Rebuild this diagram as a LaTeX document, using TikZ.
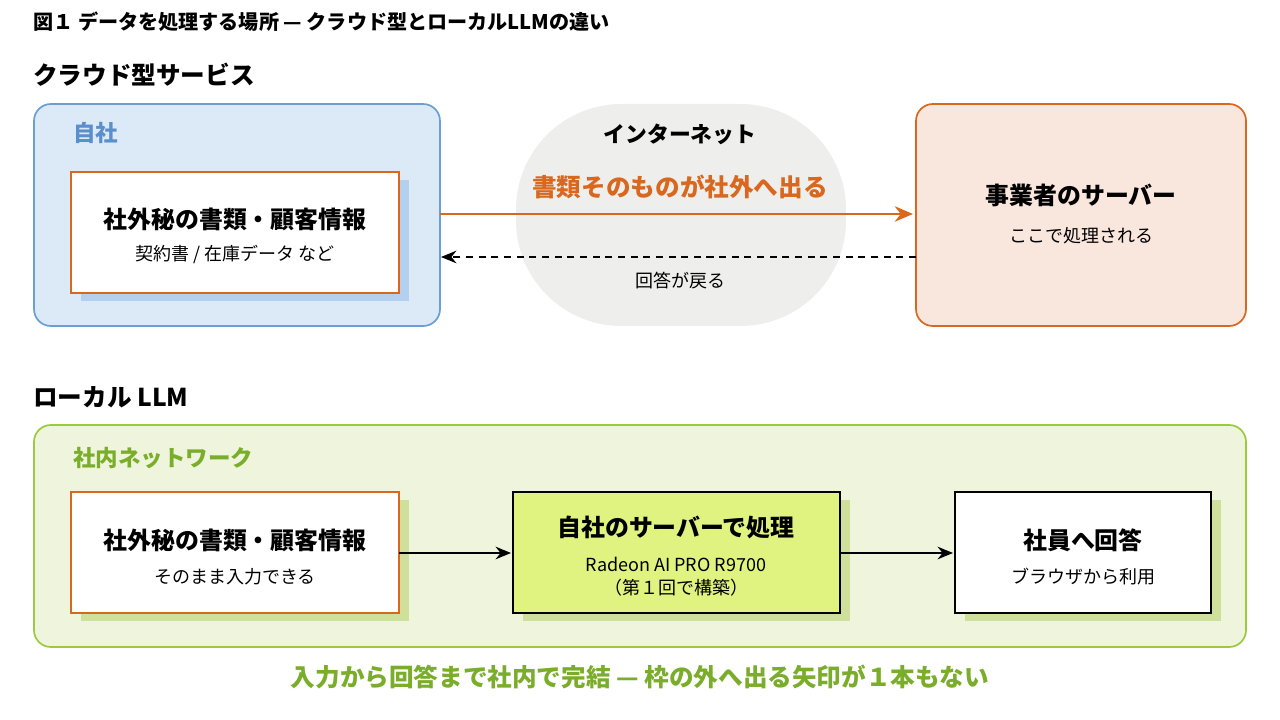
\documentclass[tikz,border=0pt]{standalone}
\usepackage{fontspec}
\setmainfont{Noto Sans CJK JP}
\usepackage{xcolor}
\usetikzlibrary{arrows.meta,positioning}
\definecolor{cloudfill}{HTML}{DCE9F7}
\definecolor{cloudline}{HTML}{6A9FD4}
\definecolor{ownlabel}{HTML}{5B8FCC}
\definecolor{orangeline}{HTML}{D9681E}
\definecolor{vendorfill}{HTML}{F9E6DD}
\definecolor{netfill}{HTML}{EEEFED}
\definecolor{lanfill}{HTML}{EEF5DC}
\definecolor{lanline}{HTML}{9DC93F}
\definecolor{lanlabel}{HTML}{7AAD2A}
\definecolor{serverfill}{HTML}{E0F27F}
\definecolor{blueshadow}{HTML}{B3D1EE}
\definecolor{greenshadow}{HTML}{CFE09D}
\tikzset{
  zone/.style={rounded corners=12pt, line width=1.2pt},
  card/.style={line width=1.2pt},
  head/.style={font=\bfseries\fontsize{17}{20}\selectfont},
  sub/.style={font=\fontsize{12.8}{15}\selectfont},
  arr/.style={-{Stealth[length=11pt,width=9pt]}, line width=0.9pt}
}
\begin{document}
\begin{tikzpicture}[x=0.025cm,y=-0.025cm]
  \useasboundingbox (0,0) rectangle (1280,720);
  % titles
  \node[anchor=west, inner sep=0pt, font=\bfseries\fontsize{14.3}{16}\selectfont] (title) at (33,22) {図１ データを処理する場所 — クラウド型とローカルLLMの違い};
  \node[anchor=west, inner sep=0pt, font=\bfseries\fontsize{17.5}{20}\selectfont] (cloudhead) at (33,75) {クラウド型サービス};
  \node[anchor=west, inner sep=0pt, font=\bfseries\fontsize{17.5}{20}\selectfont] (localhead) at (33,397) {ローカル LLM};

  % cloud: own company
  \draw[zone, fill=cloudfill, draw=cloudline] (34,104) rectangle (440,326);
  \node[anchor=west, inner sep=0pt, text=ownlabel, font=\bfseries\fontsize{16}{18}\selectfont] (own) at (73,133) {自社};
  \fill[blueshadow] (81,180) rectangle (409,301);
  \draw[card, fill=white, draw=orangeline] (71,172) rectangle (399,293);
  \node[head] (docA) at (235,219) {社外秘の書類・顧客情報};
  \node[sub] (docAsub) at (235,254) {契約書 / 在庫データ など};

  % internet
  \fill[netfill, rounded corners=75pt] (516,104) rectangle (846,326);
  \node[font=\bfseries\fontsize{15.5}{18}\selectfont] (net) at (680,134) {インターネット};
  \node[text=orangeline, font=\bfseries\fontsize{17.5}{20}\selectfont] (leak) at (680,187) {書類そのものが社外へ出る};
  \node[sub] (reply) at (680,281) {回答が戻る};

  % vendor
  \draw[zone, fill=vendorfill, draw=orangeline] (916,104) rectangle (1246,326);
  \node[head] (vendor) at (1081,195) {事業者のサーバー};
  \node[sub] (vendorsub) at (1081,236) {ここで処理される};

  \coordinate (outA) at (440,214);
  \coordinate (outB) at (913,214);
  \coordinate (backA) at (916,257);
  \coordinate (backB) at (441,257);
  \draw[arr, draw=orangeline, line width=1.5pt, -{Stealth[length=13pt,width=11pt]}] (outA) -- (outB);
  \draw[arr, dashed, dash pattern=on 5pt off 4pt] (backA) -- (backB);

  % local
  \draw[zone, fill=lanfill, draw=lanline] (34,425) rectangle (1246,647);
  \node[anchor=west, inner sep=0pt, text=lanlabel, font=\bfseries\fontsize{16}{18}\selectfont] (lan) at (73,458) {社内ネットワーク};
  \fill[greenshadow] (81,500) rectangle (409,621);
  \fill[greenshadow] (523,500) rectangle (850,621);
  \fill[greenshadow] (965,500) rectangle (1221,621);
  \draw[card, fill=white, draw=orangeline] (71,492) rectangle (399,613);
  \draw[card, fill=serverfill] (513,492) rectangle (840,613);
  \draw[card, fill=white] (955,492) rectangle (1211,613);
  \node[head] (docB) at (235,540) {社外秘の書類・顧客情報};
  \node[sub] (docBsub) at (235,577) {そのまま入力できる};
  \node[head] (srv) at (676,527) {自社のサーバーで処理};
  \node[sub] (srvsub) at (676,564) {Radeon AI PRO R9700};
  \node[sub] (srvnote) at (676,588) {（第１回で構築）};
  \node[head] (staff) at (1083,540) {社員へ回答};
  \node[sub] (staffsub) at (1083,577) {ブラウザから利用};
  \draw[arr] (399,553) -- (511,553);
  \draw[arr] (840,553) -- (953,553);

  \node[text=lanlabel, font=\bfseries\fontsize{17.5}{20}\selectfont] (summary) at (640,677) {入力から回答まで社内で完結 — 枠の外へ出る矢印が１本もない};
\end{tikzpicture}
\end{document}
